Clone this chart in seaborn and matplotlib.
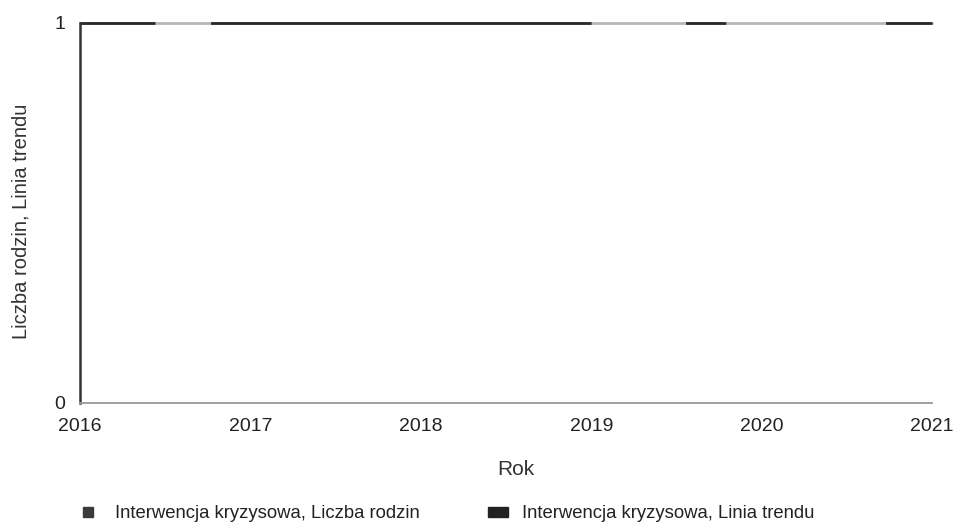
import matplotlib
matplotlib.use("Agg")
import matplotlib.pyplot as plt
import seaborn as sns
import pandas as pd
from matplotlib.patches import Rectangle

years = [2016, 2017, 2018, 2019, 2020, 2021]
liczba_rodzin = [1, 1, 1, 1, 1, 1]
linia_trendu = [1, 1, 1, 1, 1, 1]
series_names = ["Interwencja kryzysowa, Liczba rodzin", "Interwencja kryzysowa, Linia trendu"]

sns.set_style("white")
plt.rcParams["font.family"] = ["Liberation Sans", "DejaVu Sans"]
plt.rcParams["lines.scale_dashes"] = False

df = pd.DataFrame({"Rok": years, "rodziny": liczba_rodzin, "trend": linia_trendu})

fig = plt.figure(figsize=(9.56, 5.32), dpi=100)
ax = fig.add_axes([0.0837, 0.2425, 0.975 - 0.0837, 0.9568 - 0.2425])

sns.lineplot(data=df, x="Rok", y="rodziny", ax=ax, color="#b8b8b8", linewidth=2.0)
sns.lineplot(data=df, x="Rok", y="trend", ax=ax, color="#2a2a2a", linewidth=2.0)
ax.lines[-1].set_dashes([54, 40, 274, 68, 29, 115, 40, 60])
for ln in ax.lines:
    ln.set_clip_on(False)

ax.set_xlim(2016, 2021)
ax.set_ylim(0, 1)
ax.set_xticks(years)
ax.set_xticklabels([str(y) for y in years], fontsize=14, color="#222222")
ax.set_yticks([0, 1])
ax.set_yticklabels(["0", "1"], fontsize=14, color="#222222")
ax.tick_params(axis="both", length=0, pad=10.5)
ax.set_xlabel("Rok", fontsize=15, color="#333333")
ax.set_ylabel("Liczba rodzin, Linia trendu", fontsize=14.5, color="#333333")
ax.xaxis.set_label_coords(0.512, -0.15)
ax.yaxis.set_label_coords(-0.058, 0.478)

for s in ["top", "right"]:
    ax.spines[s].set_visible(False)
ax.spines["left"].set_color("#333333")
ax.spines["left"].set_linewidth(1.8)
ax.spines["bottom"].set_color("#999999")
ax.spines["bottom"].set_linewidth(1.3)
ax.grid(False)

fs = 13.3
fs_px = fs * 100 / 72.0
colors = ["#3a3a3a", "#222222"]
anchors = [83 / 956, 488 / 956]
hlens = [10 / fs_px, 20 / fs_px]
pads = [22 / fs_px, 14 / fs_px]
for name, col, anc, hl, pd_ in zip(series_names, colors, anchors, hlens, pads):
    leg = fig.legend([Rectangle((0, 0), 1, 1, color=col)], [name], loc="center left",
                     bbox_to_anchor=(anc, 1 - 514 / 532), frameon=False,
                     prop={"size": fs}, handlelength=hl,
                     handleheight=0.45, handletextpad=pd_, borderpad=0, borderaxespad=0)
    for t in leg.get_texts():
        t.set_color("#222222")

fig.savefig("out.png", dpi=100)
